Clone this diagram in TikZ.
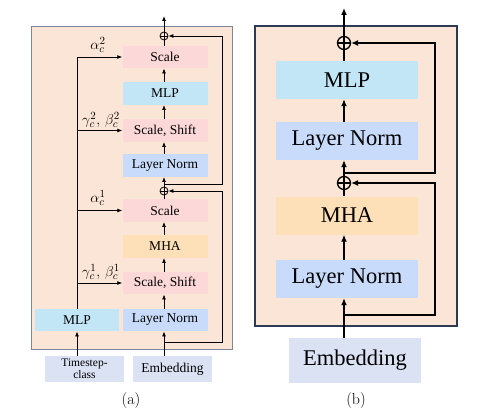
\documentclass[tikz,border=0pt]{standalone}
\usepackage{fontspec}
\newfontfamily\tnr{Liberation Serif}
\usetikzlibrary{arrows.meta}
\definecolor{peach}{HTML}{FBE5D6}
\definecolor{pinkbox}{HTML}{FCD8D8}
\definecolor{mlpblue}{HTML}{C3E6F6}
\definecolor{lnblue}{HTML}{C8DBFA}
\definecolor{mhaor}{HTML}{FEE0B8}
\definecolor{inbox}{HTML}{DAE2F3}
\definecolor{graybd}{HTML}{7D8796}
\definecolor{navybd}{HTML}{2C3A55}
\tikzset{
  ba/.style={rectangle,inner sep=0pt,minimum width=85pt,minimum height=22.5pt,font=\tnr\fontsize{13.5}{14}\selectfont},
  bb/.style={rectangle,inner sep=0pt,minimum width=142pt,minimum height=38pt,font=\tnr\fontsize{22.5}{24}\selectfont},
  arra/.style={line width=0.8pt,-{Latex[length=5pt,width=4pt]}},
  lina/.style={line width=0.8pt},
  arrb/.style={line width=1.3pt,-{Latex[length=7pt,width=6pt]}},
  linb/.style={line width=1.3pt},
  opa/.style={circle,draw,line width=0.8pt,minimum size=8pt,inner sep=0pt},
  opb/.style={circle,draw,line width=1.3pt,minimum size=13pt,inner sep=0pt},
  lab/.style={font=\fontsize{15}{16}\selectfont,inner sep=0pt},
}
\begin{document}
\begin{tikzpicture}[x=1pt,y=-1pt]
\useasboundingbox (0,0) rectangle (480,420);
% ---------- panel (a) ----------
\node[draw=graybd,line width=1pt,fill=peach,minimum width=201pt,minimum height=322pt,inner sep=0pt] (framea) at (131.5,188) {};
\node[ba,fill=pinkbox] (sc2) at (165,57) {Scale};
\node[ba,fill=mlpblue] (mlp2) at (165,93.5) {MLP};
\node[ba,fill=pinkbox] (ss2) at (165,130.5) {Scale, Shift};
\node[ba,fill=lnblue] (ln2) at (165,165.5) {Layer Norm};
\node[ba,fill=pinkbox] (sc1) at (165,210.5) {Scale};
\node[ba,fill=mhaor] (mha1) at (165,246.5) {MHA};
\node[ba,fill=pinkbox] (ss1) at (165,283) {Scale, Shift};
\node[ba,fill=lnblue] (ln1) at (165,320) {Layer Norm};
\node[ba,fill=mlpblue,minimum width=84pt] (mlpa) at (77,320) {MLP};
\node[ba,fill=inbox,minimum width=79pt,minimum height=26pt,font=\tnr\fontsize{11.5}{12}\selectfont,align=center] (ts) at (84.5,369) {Timestep-\\class};
\node[ba,fill=inbox,minimum width=79pt,minimum height=26pt] (emba) at (172.5,369) {Embedding};
\node[opa] (oa1) at (164,191) {};
\node[opa] (oa2) at (164,36) {};
\foreach \o in {oa1,oa2}{\draw[lina] (\o.north)--(\o.south) (\o.west)--(\o.east);}
\coordinate (outa) at (164,16);
\draw[arra] (emba.north -| oa1) -- (ln1.south -| oa1);
\draw[arra] (ln1.north -| oa1) -- (ss1.south -| oa1);
\draw[arra] (ss1.north -| oa1) -- (mha1.south -| oa1);
\draw[arra] (mha1.north -| oa1) -- (sc1.south -| oa1);
\draw[lina] (sc1.north -| oa1) -- (oa1.south);
\draw[arra] (oa1.north) -- (ln2.south -| oa1);
\draw[arra] (ln2.north -| oa1) -- (ss2.south -| oa1);
\draw[arra] (ss2.north -| oa1) -- (mlp2.south -| oa1);
\draw[arra] (mlp2.north -| oa1) -- (sc2.south -| oa1);
\draw[lina] (sc2.north -| oa1) -- (oa2.south);
\draw[arra] (oa2.north) -- (outa);
% residuals
\coordinate (ra1) at (164,342);
\coordinate (ra1c) at (222,191);
\draw[arra] (ra1) -| (ra1c) -- (oa1.east);
\coordinate (ra2) at (164,184);
\coordinate (ra2c) at (222,36);
\draw[arra] (ra2) -| (ra2c) -- (oa2.east);
% conditioning
\draw[arra] (ts.north -| mlpa) -- (mlpa.south);
\draw[lina] (mlpa.north) -- (mlpa.north |- sc2.west);
\draw[arra] (mlpa.north |- sc2.west) -- (sc2.west);
\draw[arra] (mlpa.north |- ss2.west) -- (ss2.west);
\draw[arra] (mlpa.north |- sc1.west) -- (sc1.west);
\draw[arra] (mlpa.north |- ss1.west) -- (ss1.west);
\node[lab] (la2) at (98,45) {$\alpha_c^2$};
\node[lab] (lg2) at (101,120) {$\gamma_c^2,\,\beta_c^2$};
\node[lab] (la1) at (98,198) {$\alpha_c^1$};
\node[lab] (lg1) at (101,272) {$\gamma_c^1,\,\beta_c^1$};
\node[font=\fontsize{16}{17}\selectfont] (capa) at (131,401) {(a)};
% ---------- panel (b) ----------
\node[draw=navybd,line width=1.3pt,fill=peach,minimum width=202pt,minimum height=300pt,inner sep=0pt] (frameb) at (356,176) {};
\node[bb,fill=mlpblue] (mlpb) at (347,80) {MLP};
\node[bb,fill=lnblue] (ln2b) at (347,141) {Layer Norm};
\node[bb,fill=mhaor] (mhab) at (347,215.5) {MHA};
\node[bb,fill=lnblue] (ln1b) at (347,279) {Layer Norm};
\node[bb,fill=inbox,minimum width=132pt,minimum height=45pt] (embb) at (355,360.5) {Embedding};
\node[opb] (ob1) at (344,183) {};
\node[opb] (ob2) at (344,43) {};
\foreach \o in {ob1,ob2}{\draw[linb] (\o.north)--(\o.south) (\o.west)--(\o.east);}
\coordinate (outb) at (344,8);
\draw[arrb] (embb.north -| ob1) -- (ln1b.south -| ob1);
\draw[arrb] (ln1b.north -| ob1) -- (mhab.south -| ob1);
\draw[linb] (mhab.north -| ob1) -- (ob1.south);
\draw[arrb] (ob1.north) -- (ln2b.south -| ob1);
\draw[arrb] (ln2b.north -| ob1) -- (mlpb.south -| ob1);
\draw[linb] (mlpb.north -| ob1) -- (ob2.south);
\draw[arrb] (ob2.north) -- (outb);
\coordinate (rb1) at (344,315);
\coordinate (rb1c) at (435,183);
\draw[arrb] (rb1) -| (rb1c) -- (ob1.east);
\coordinate (rb2) at (344,173);
\coordinate (rb2c) at (435,43);
\draw[arrb] (rb2) -| (rb2c) -- (ob2.east);
\node[font=\fontsize{16}{17}\selectfont] (capb) at (356,401) {(b)};
\end{tikzpicture}
\end{document}
